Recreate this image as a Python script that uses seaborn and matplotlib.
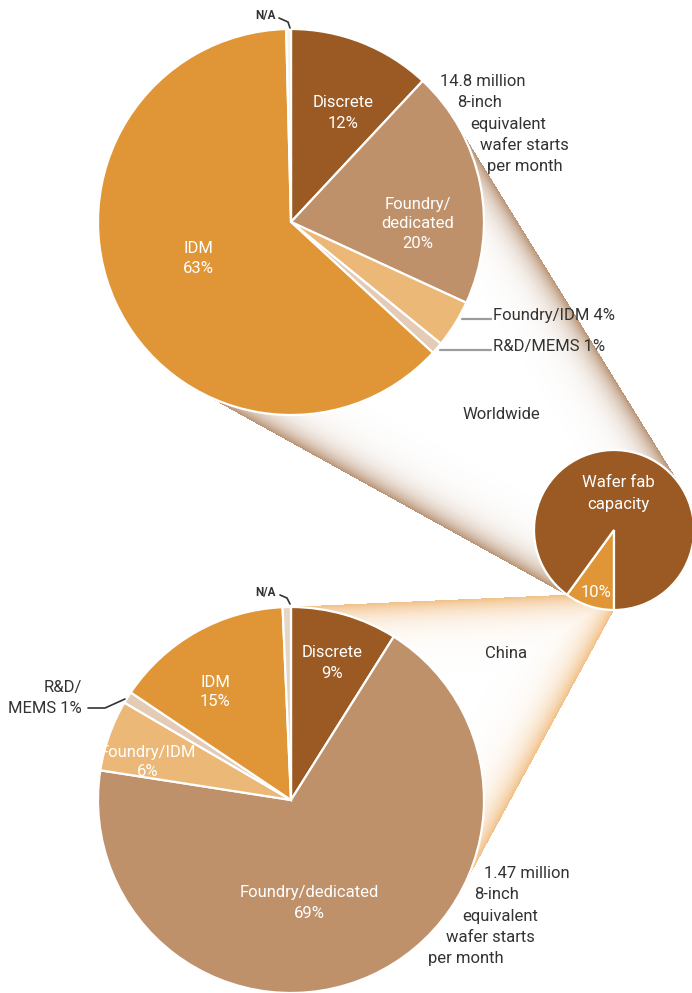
import numpy as np
import matplotlib
matplotlib.use("Agg")
import matplotlib.pyplot as plt
from matplotlib import font_manager as fm
import seaborn as sns

# ---------------------------------------------------------------- data
world_labels = ["Discrete", "Foundry/dedicated", "Foundry/IDM", "R&D/MEMS", "IDM", "N/A"]
world_share = [12, 20, 4, 1, 63, 0.4]

china_labels = ["Discrete", "Foundry/dedicated", "Foundry/IDM", "R&D/MEMS", "IDM", "N/A"]
china_share = [9, 69, 6, 1, 15, 0.7]

capacity_labels = ["China", "Rest of world"]
capacity_share = [10, 90]

world_total = ["14.8 million", "8-inch", "equivalent", "wafer starts", "per month"]
china_total = ["1.47 million", "8-inch", "equivalent", "wafer starts", "per month"]

# ---------------------------------------------------------------- style
sns.set_theme(style="white")


def has_font(name):
    try:
        fm.findfont(fm.FontProperties(family=name), fallback_to_default=False)
        return True
    except ValueError:
        return False


if has_font("Liberation Sans Narrow"):
    FAMILY, FS = ["Liberation Sans Narrow", "DejaVu Sans"], 13.2
else:
    FAMILY, FS = ["Roboto", "DejaVu Sans"], 12.0
plt.rcParams["font.family"] = FAMILY

seg_colors = dict(zip(
    ["Discrete", "Foundry/dedicated", "Foundry/IDM", "R&D/MEMS", "IDM"],
    sns.color_palette(["#9b5a23", "#be916a", "#ebb877", "#e3cbb6", "#e09636"]),
))
world_colors = [seg_colors[k] for k in world_labels[:-1]] + ["#f8f2ec"]
china_colors = [seg_colors[k] for k in china_labels[:-1]] + ["#e6d6c6"]
capacity_colors = [seg_colors["IDM"], seg_colors["Discrete"]]

DARK = "#333333"
W, H = 692, 993

# pie geometry in pixel space (y measured downward)
TOP = (291, 222, 193)
SMALL = (614, 530, 80)
BOTTOM = (291, 800, 193)

fig = plt.figure(figsize=(W / 100, H / 100), dpi=100)
ax = fig.add_axes([0, 0, 1, 1])


# ---------------------------------------------------------------- zoom cones
def unit(v):
    return v / np.hypot(*v)


def rot(v, a):
    c, s = np.cos(a), np.sin(a)
    return np.array([c * v[0] - s * v[1], s * v[0] + c * v[1]])


def outer_tangents(c1, c2):
    p1, p2 = np.array(c1[:2], float), np.array(c2[:2], float)
    r1, r2 = c1[2], c2[2]
    d = p2 - p1
    th = np.arccos((r1 - r2) / np.hypot(*d))
    u = unit(d)
    out = []
    for sgn in (-1, 1):
        n = rot(u, sgn * th)
        out.append((p1 + r1 * n, p2 + r2 * n))
    return out


def point_tangent(p, circ, sgn):
    c = np.array(circ[:2], float)
    p = np.array(p, float)
    d = p - c
    th = np.arccos(circ[2] / np.hypot(*d))
    return c + circ[2] * rot(unit(d), sgn * th)


yy, xx = np.mgrid[0:H, 0:W] + 0.5


def line_dist(a, b):
    d = unit(b - a)
    return np.abs((xx - a[0]) * d[1] - (yy - a[1]) * d[0])


def inside(poly):
    mask = np.ones_like(xx, bool)
    mx = np.mean([p[0] for p in poly])
    my = np.mean([p[1] for p in poly])
    for i in range(len(poly)):
        a, b = poly[i], poly[(i + 1) % len(poly)]
        cr = (b[0] - a[0]) * (yy - a[1]) - (b[1] - a[1]) * (xx - a[0])
        c0 = np.sign((b[0] - a[0]) * (my - a[1]) - (b[1] - a[1]) * (mx - a[0]))
        mask &= (cr * c0) >= 0
    return mask


def shade(poly, edges, rgb, width, peak):
    a = np.zeros_like(xx)
    for p, q in edges:
        a = np.maximum(a, np.exp(-line_dist(p, q) / width))
    a = a * peak * inside(poly)
    img = np.zeros((H, W, 4))
    img[..., :3] = np.array(rgb) / 255.0
    img[..., 3] = a
    ax.imshow(img, extent=(0, W, 0, H), origin="upper", zorder=0,
              interpolation="bilinear")


(ta1, ta2), (tb1, tb2) = outer_tangents(TOP, SMALL)
shade([ta1, ta2, tb2, tb1], [(ta1, ta2), (tb1, tb2)], (168, 122, 84), 13, 0.82)

# edge points of the China wedge on the small pie
a0 = np.deg2rad(180 + capacity_share[0] / sum(capacity_share) * 360)
q1 = np.array([SMALL[0] + SMALL[2] * np.sin(a0), SMALL[1] - SMALL[2] * np.cos(a0)])
q2 = np.array([SMALL[0], SMALL[1] + SMALL[2]])
s1 = point_tangent(q1, BOTTOM, -1)
s2 = point_tangent(q2, BOTTOM, 1)
shade([q1, q2, s2, s1], [(q1, s1), (q2, s2)], (238, 176, 104), 14, 0.8)


# ---------------------------------------------------------------- pies
def pie(values, colors, circ, start):
    cx, cy, r = circ
    ax.pie(values, colors=colors, startangle=start, counterclock=False,
           center=(cx, H - cy), radius=r, normalize=True,
           wedgeprops=dict(edgecolor="white", linewidth=1.6, zorder=2))


pie(world_share, world_colors, TOP, 90)
pie(china_share, china_colors, BOTTOM, 90)
pie(capacity_share, capacity_colors, SMALL, -90)

ax.set_xlim(0, W)
ax.set_ylim(0, H)
ax.set_aspect("equal")
ax.axis("off")


# ---------------------------------------------------------------- text
def lines(x, ys, texts, color="white", ha="center", size=FS, weight="normal"):
    for y, t in zip(ys, texts):
        ax.text(x, H - (y + size * 0.5), t, color=color, ha=ha, va="baseline",
                fontsize=size, fontweight=weight, zorder=5)


def stair(xs, ys, texts):
    for x, y, t in zip(xs, ys, texts):
        ax.text(x, H - (y + FS * 0.5), t, color=DARK, ha="left", va="baseline",
                fontsize=FS, zorder=5)


def leader(pts, color=DARK, lw=1.2):
    ax.plot([p[0] for p in pts], [H - p[1] for p in pts], color=color, lw=lw,
            solid_joinstyle="miter", zorder=4)


# worldwide
lines(343, [101, 122], ["Discrete", f"{world_share[0]}%"])
lines(418, [203, 222, 242], ["Foundry/", "dedicated", f"{world_share[1]}%"])
lines(198, [247, 267], ["IDM", f"{world_share[4]}%"])
stair([440, 457, 470, 480, 487], [80, 101, 123, 144, 165], world_total)
lines(493, [314], [f"Foundry/IDM {world_share[2]}%"], color=DARK, ha="left")
lines(493, [345], [f"R&D/MEMS {world_share[3]}%"], color=DARK, ha="left")
leader([(462, 319), (491, 319)], color="#9c9c9c", lw=1.6)
leader([(440, 350), (491, 350)], color="#9c9c9c", lw=1.6)
lines(501, [413], ["Worldwide"], color=DARK)
lines(266, [15], ["N/A"], color=DARK, size=FS * 0.7, weight="bold")
leader([(279, 18), (288, 22), (290, 28)])

# capacity
lines(618, [481, 503], ["Wafer fab", "capacity"])
lines(596, [591], [f"{capacity_share[0]}%"])

# china
lines(266, [592], ["N/A"], color=DARK, size=FS * 0.7, weight="bold")
leader([(280, 595), (287, 598), (290, 604)])
lines(332, [651, 672], ["Discrete", f"{china_share[0]}%"])
lines(506, [652], ["China"], color=DARK)
lines(215, [681, 700], ["IDM", f"{china_share[4]}%"])
lines(82, [686, 707], ["R&D/", f"MEMS {china_share[3]}%"], color=DARK, ha="right")
leader([(88, 708), (105, 708), (125, 699)])
lines(148, [751, 770], ["Foundry/IDM", f"{china_share[2]}%"])
lines(309, [891, 912], ["Foundry/dedicated", f"{china_share[1]}%"])
stair([484, 474, 462, 446, 428], [872, 893, 915, 936, 957], china_total)

fig.savefig("out.png", dpi=100, facecolor="white")
